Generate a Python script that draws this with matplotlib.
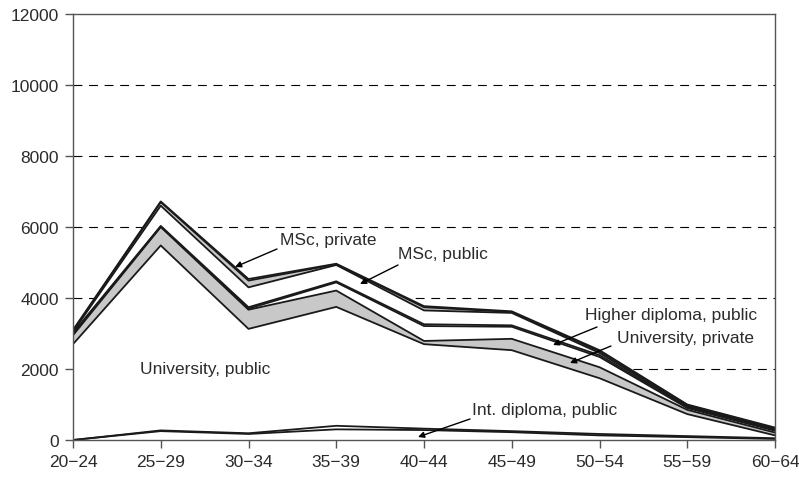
import matplotlib.pyplot as plt
import numpy as np

plt.rcParams["font.family"] = ["Liberation Sans", "DejaVu Sans"]

AGE_GROUPS = ["20\u221224", "25\u221229", "30\u221234", "35\u221239", "40\u221244",
              "45\u221249", "50\u221254", "55\u221259", "60\u221264"]

# stacked bottom -> top (counts per age group)
int_dipl_public = [0, 250, 170, 300, 280, 220, 130, 80, 30]
int_dipl_private = [0, 20, 20, 100, 40, 30, 40, 30, 20]
univ_public = [2700, 5210, 2940, 3350, 2380, 2280, 1570, 620, 80]
univ_private = [250, 520, 540, 460, 90, 320, 310, 120, 80]
high_dipl_public = [40, 10, 30, 230, 420, 340, 290, 50, 50]
high_dipl_private = [30, 20, 40, 30, 50, 40, 50, 30, 30]
msc_public = [30, 570, 560, 460, 390, 350, 60, 30, 20]
msc_private = [30, 100, 190, 20, 90, 25, 50, 25, 20]
phd = [20, 20, 45, 15, 30, 20, 30, 15, 20]

LAYERS = [
    (int_dipl_public, "white"),
    (int_dipl_private, "white"),
    (univ_public, "white"),
    (univ_private, "#c8c8c8"),
    (high_dipl_public, "white"),
    (high_dipl_private, "white"),
    (msc_public, "white"),
    (msc_private, "#c8c8c8"),
    (phd, "white"),
]

TEXT = "#2b2b2b"


def main():
    fig = plt.figure(figsize=(7.99, 4.81), dpi=100)
    ax = fig.add_axes([73 / 799, 1 - 441 / 481, (775 - 73) / 799, (441 - 15) / 481])
    x = np.arange(len(AGE_GROUPS))

    for yv in range(2000, 12000, 2000):
        ax.axhline(yv, color="black", linestyle=(0, (8, 6)), linewidth=0.8, zorder=0)

    base = np.zeros(len(x))
    for values, color in LAYERS:
        top = base + np.array(values)
        ax.fill_between(x, base, top, facecolor=color, edgecolor="none", zorder=2)
        ax.plot(x, top, color="#1a1a1a", linewidth=1.3, zorder=3)
        base = top

    ax.set_xlim(0, len(x) - 1)
    ax.set_ylim(0, 12000)
    ax.set_yticks(range(0, 12001, 2000))
    ax.set_xticks(x)
    ax.set_xticklabels(AGE_GROUPS)
    ax.tick_params(axis="both", direction="out", length=6, width=1, color="#555555",
                   labelsize=12.5, labelcolor=TEXT, pad=4)
    for side in ["left", "bottom", "right", "top"]:
        ax.spines[side].set_color("#555555")
        ax.spines[side].set_linewidth(1)
        ax.spines[side].set_zorder(4)

    arrow = dict(arrowstyle="-|>", color="black", lw=1, mutation_scale=9, shrinkA=0, shrinkB=0)

    def label(text, xy_px, xytext_px, ha="left"):
        # pixel positions -> data coordinates
        def conv(p):
            return (x[0] + (p[0] - 73) / (775 - 73) * (len(x) - 1), (441 - p[1]) / 426 * 12000)
        if xy_px is None:
            ax.text(*conv(xytext_px), text, fontsize=12.5, color=TEXT, ha=ha, va="center", zorder=5)
        else:
            ax.annotate("", xy=conv(xy_px), xytext=conv(xytext_px[1]), arrowprops=arrow, zorder=5)
            ax.text(*conv(xytext_px[0]), text, fontsize=12.5, color=TEXT, ha=ha, va="center", zorder=5)

    label("MSc, private", (235, 268), ((280, 241), (277, 250)))
    label("MSc, public", (360, 285), ((398, 255), (398, 266)))
    label("Higher diploma, public", (553, 346), ((585, 316), (597, 328)))
    label("University, private", (570, 364), ((617, 339), (611, 347)))
    label("University, public", None, (140, 370))
    label("Int. diploma, public", (418, 438), ((472, 411), (470, 420)))

    fig.savefig("out.png", dpi=100)
    plt.close(fig)


if __name__ == "__main__":
    main()
